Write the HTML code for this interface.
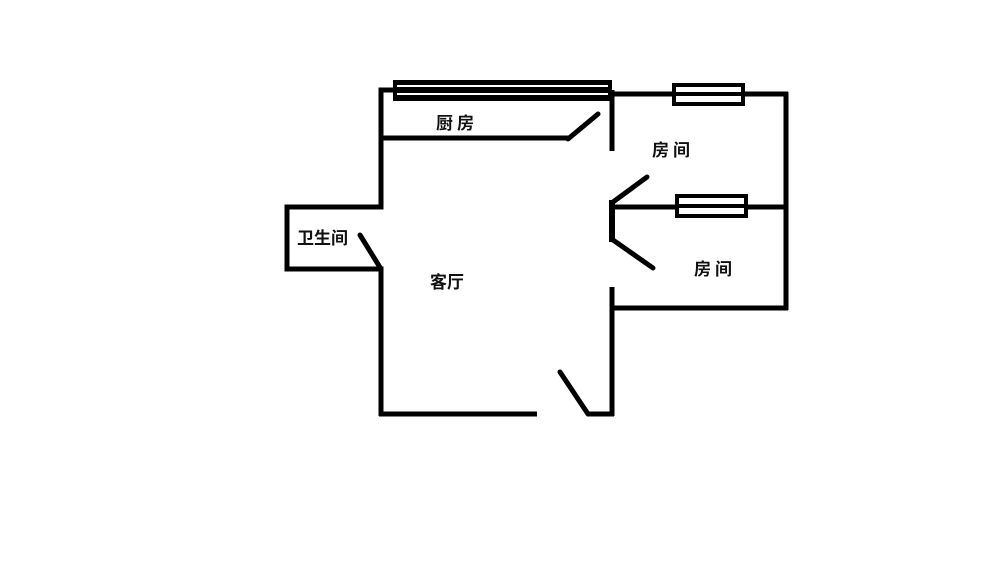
<!DOCTYPE html>
<html><head><meta charset="utf-8"><style>
html,body{margin:0;padding:0;background:#fff;}
svg{display:block;}
text{font-family:"Liberation Sans","Noto Sans CJK SC",sans-serif;font-weight:bold;font-size:17px;fill:#111;}
</style></head><body>
<svg width="1000" height="561" viewBox="0 0 1000 561">
<g stroke="#000" stroke-width="5" fill="none" stroke-linecap="butt">
<!-- kitchen -->
<polyline points="394,90 381,90 381,207 287,207 287,269 381,269 381,416"/>
<line x1="381" y1="138" x2="570" y2="138"/>
<line x1="568" y1="139" x2="598" y2="114" stroke-linecap="round"/>
<line x1="612" y1="90" x2="612" y2="151"/>
<!-- top right -->
<line x1="612" y1="94" x2="788" y2="94"/>
<line x1="786" y1="92" x2="786" y2="310"/>
<!-- middle wall -->
<line x1="612" y1="207" x2="786" y2="207"/>
<line x1="612" y1="200" x2="612" y2="242" stroke-width="6"/>
<line x1="613" y1="202" x2="647" y2="177" stroke-linecap="round"/>
<line x1="613" y1="240" x2="653" y2="268" stroke-linecap="round"/>
<!-- lower right -->
<polyline points="612,287 612,416"/>
<line x1="612" y1="308" x2="788" y2="308"/>
<!-- bottom -->
<line x1="379" y1="414" x2="537" y2="414"/>
<line x1="587" y1="414" x2="614" y2="414"/>
<line x1="560" y1="372" x2="588" y2="414" stroke-linecap="round"/>
<line x1="360" y1="235" x2="381" y2="269" stroke-linecap="round"/>
</g>
<!-- kitchen window -->
<rect x="393" y="80" width="219" height="21" fill="#000"/>
<rect x="397" y="85" width="211" height="2" fill="#fff"/>
<rect x="397" y="93" width="211" height="2" fill="#fff"/>
<!-- windows -->
<rect x="674" y="85" width="69" height="19" fill="#fff" stroke="#000" stroke-width="4"/>
<rect x="674" y="92" width="69" height="4" fill="#000"/>
<rect x="677" y="196" width="69" height="20" fill="#fff" stroke="#000" stroke-width="4"/>
<rect x="677" y="204" width="69" height="4" fill="#000"/>
<!-- labels -->
<text x="436" y="129" letter-spacing="4">厨房</text>
<text x="652" y="156" letter-spacing="4">房间</text>
<text x="297" y="244">卫生间</text>
<text x="430" y="288">客厅</text>
<text x="694" y="275" letter-spacing="4">房间</text>
</svg>
</body></html>
